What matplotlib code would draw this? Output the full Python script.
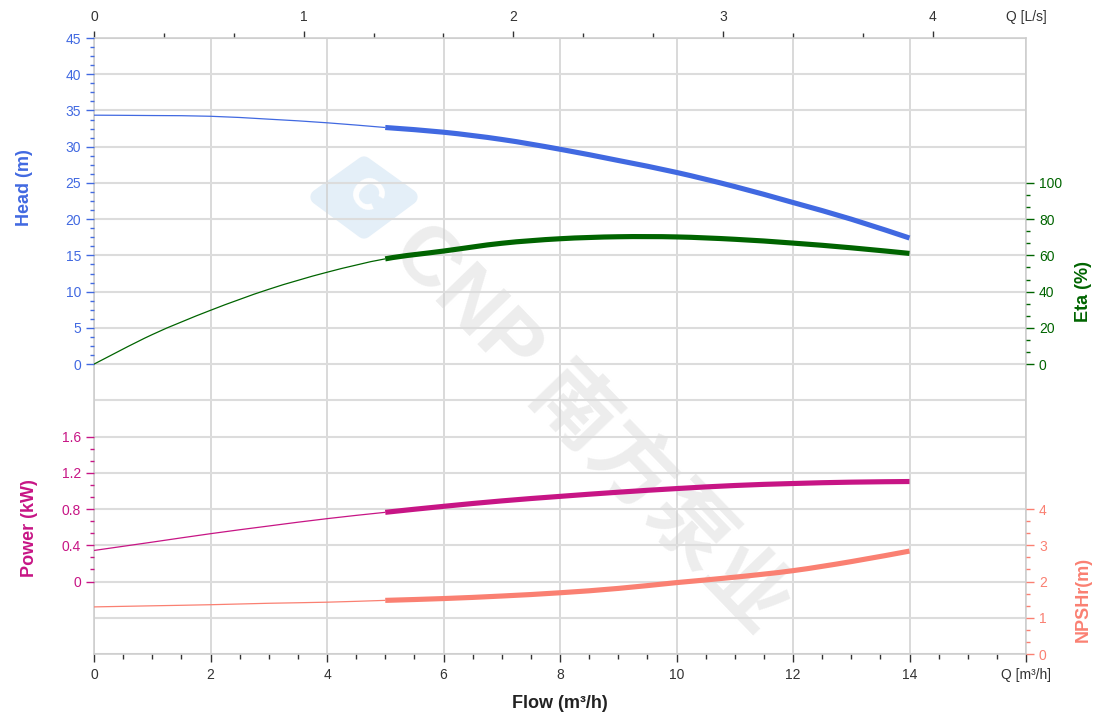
import numpy as np
import matplotlib
matplotlib.use('Agg')
import matplotlib.pyplot as plt
from matplotlib.ticker import FixedLocator
from matplotlib import patches
from matplotlib.path import Path

# ---------------- data ----------------
flow = [0, 1, 2, 3, 4, 5, 6, 7, 8, 9, 10, 11, 12, 13, 14]                 # m3/h
head = [34.35, 34.3, 34.2, 33.8, 33.3, 32.65, 32.0, 31.0, 29.65, 28.1,
        26.45, 24.5, 22.3, 20.0, 17.4]                                      # m
eta = [0.0, 16.3, 29.7, 41.3, 50.7, 58.1, 62.4, 66.7, 69.2, 70.3,
       70.2, 68.9, 66.8, 64.2, 61.1]                                        # %
power = [0.343, 0.435, 0.528, 0.613, 0.694, 0.764, 0.83, 0.89, 0.94, 0.986,
         1.026, 1.06, 1.082, 1.097, 1.104]                                  # kW
npsh = [1.30, 1.33, 1.36, 1.40, 1.43, 1.48, 1.53, 1.60, 1.69, 1.81,
        1.97, 2.12, 2.30, 2.55, 2.84]                                       # m

x_ticks = [0, 2, 4, 6, 8, 10, 12, 14, 16]
x_tick_labels = ['0', '2', '4', '6', '8', '10', '12', '14', 'Q [m³/h]']
ls_ticks = [0, 1, 2, 3, 4]
head_ticks = [0, 5, 10, 15, 20, 25, 30, 35, 40, 45]
eta_ticks = [0, 20, 40, 60, 80, 100]
power_ticks = [0, 0.4, 0.8, 1.2, 1.6]
power_tick_labels = ['0', '0.4', '0.8', '1.2', '1.6']
npsh_ticks = [0, 1, 2, 3, 4]
watermark = 'CNP 南方泵业'

# ---------------- style ----------------
C_HEAD = '#4169E1'
C_ETA = '#006400'
C_POW = '#C71585'
C_NPSH = '#FA8072'
C_TXT = '#333333'
THIN, THICK = 0.9, 3.7
PREF_START = 5.0   # start of the thick (preferred) part of the curves

plt.rcParams['font.family'] = ['Liberation Sans', 'DejaVu Sans']

W, H = 1120, 718
L, R, T, B = 94, 1026, 38, 654
pos = [L / W, 1 - B / H, (R - L) / W, (B - T) / H]

fig = plt.figure(figsize=(W / 100, H / 100), dpi=100)

# base axes: grid + flow axis
ax = fig.add_axes(pos)
ax.set_xlim(0, 16)
ax.set_ylim(0, 17)
ax.set_yticks(np.arange(0, 18))
ax.tick_params(axis='y', left=False, labelleft=False)
ax.grid(axis='y', color='#dcdcdc', lw=1.5)
ax.set_xticks(x_ticks)
ax.set_xticklabels(x_tick_labels)
ax.xaxis.set_minor_locator(FixedLocator([v for v in np.arange(0, 16.01, 0.5) if v % 2 != 0]))
ax.grid(axis='x', which='major', color='#d0d0d0', lw=1.1)
ax.tick_params(axis='x', which='major', length=5.8, width=1, color=C_TXT,
               labelcolor=C_TXT, labelsize=10, pad=4)
ax.tick_params(axis='x', which='minor', length=3.6, width=1, color=C_TXT)
for s in ax.spines.values():
    s.set_color('#cccccc')
    s.set_linewidth(1.1)

# top axis in L/s
sec = ax.secondary_xaxis('top', functions=(lambda q: q / 3.6, lambda l: l * 3.6))
sec.set_xticks(ls_ticks)
sec.xaxis.set_minor_locator(FixedLocator([i + f for i in range(4) for f in (1 / 3, 2 / 3)]))
sec.tick_params(axis='x', which='major', length=5.2, width=1, color=C_TXT,
                labelcolor=C_TXT, labelsize=10, pad=5)
sec.tick_params(axis='x', which='minor', length=3.4, width=1, color=C_TXT)
sec.spines['top'].set_visible(False)
ax.annotate('Q [L/s]', xy=(16, 1), xycoords=('data', 'axes fraction'),
            xytext=(0, 21), textcoords='offset pixels', ha='center', va='center',
            fontsize=10, color=C_TXT)

# watermark (behind grid)
ax.text(590 / W, 1 - 428 / H, watermark, transform=fig.transFigure, rotation=-46,
        rotation_mode='anchor', ha='center', va='center', fontsize=60,
        fontweight='bold', color='#ededed', zorder=0.5,
        family=['Liberation Sans', 'Noto Sans CJK SC'])
logo_pts = [(318, 197), (364, 164), (410, 197), (364, 231)]
logo = patches.Polygon([(x / W, 1 - y / H) for x, y in logo_pts], closed=True,
                       transform=fig.transFigure, facecolor='#e4eff8',
                       edgecolor='#e4eff8', lw=11, joinstyle='round', zorder=0.4)
ax.add_patch(logo)
ax.text(364 / W, 1 - 197 / H, 'C', transform=fig.transFigure, rotation=-46,
        ha='center', va='center', fontsize=32, fontweight='bold', color='white',
        zorder=0.45)


def overlay(ylim):
    a = fig.add_axes(pos, sharex=ax, frameon=False)
    a.set_ylim(*ylim)
    a.xaxis.set_visible(False)
    return a


def style_y(a, ticks, minors, color, side, labels=None):
    a.yaxis.set_major_locator(FixedLocator(ticks))
    a.yaxis.set_minor_locator(FixedLocator(minors))
    if labels is not None:
        a.set_yticklabels(labels)
    if side == 'right':
        a.yaxis.tick_right()
    else:
        a.yaxis.tick_left()
    a.tick_params(axis='y', which='major', length=5.8, width=1, colors=color,
                  labelsize=10, pad=3.5)
    a.tick_params(axis='y', which='minor', length=3.0, width=1, colors=color)


def smooth_path(x, y, i0, i1):
    """Cubic (Catmull-Rom) path through the read points i0..i1."""
    n = len(x)
    verts = [(x[i0], y[i0])]
    codes = [Path.MOVETO]
    for i in range(i0, i1):
        p0 = (x[max(i - 1, 0)], y[max(i - 1, 0)])
        p1 = (x[i], y[i])
        p2 = (x[i + 1], y[i + 1])
        p3 = (x[min(i + 2, n - 1)], y[min(i + 2, n - 1)])
        c1 = (p1[0] + (p2[0] - p0[0]) / 6, p1[1] + (p2[1] - p0[1]) / 6)
        c2 = (p2[0] - (p3[0] - p1[0]) / 6, p2[1] - (p3[1] - p1[1]) / 6)
        verts += [c1, c2, p2]
        codes += [Path.CURVE4] * 3
    return Path(verts, codes)


def split_plot(a, x, y, color):
    x = list(map(float, x))
    y = list(map(float, y))
    k = x.index(PREF_START)
    a.add_patch(patches.PathPatch(smooth_path(x, y, 0, k), fill=False,
                                  edgecolor=color, lw=THIN))
    a.add_patch(patches.PathPatch(smooth_path(x, y, k, len(x) - 1), fill=False,
                                  edgecolor=color, lw=THICK, capstyle='butt'))


# head
axh = overlay((-40, 45))
style_y(axh, head_ticks, [m for m in np.arange(0, 45.01, 1.25) if m % 5 != 0], C_HEAD, 'left')
split_plot(axh, flow, head, C_HEAD)

# efficiency
axe = overlay((-160, 180))
style_y(axe, eta_ticks, [m for m in np.arange(0, 100.01, 20 / 3) if abs(m / 20 - round(m / 20)) > 1e-6],
        C_ETA, 'right')
split_plot(axe, flow, eta, C_ETA)

# power
axp = overlay((-0.8, 6.0))
style_y(axp, power_ticks, [m for m in np.arange(0, 1.6001, 0.4 / 3) if abs(m / 0.4 - round(m / 0.4)) > 1e-6],
        C_POW, 'left', power_tick_labels)
split_plot(axp, flow, power, C_POW)

# NPSHr
axn = overlay((0, 17))
style_y(axn, npsh_ticks, [m for m in np.arange(0, 4.001, 1 / 3) if abs(m - round(m)) > 1e-6],
        C_NPSH, 'right')
split_plot(axn, flow, npsh, C_NPSH)

for a in (axh, axe, axp, axn):
    a.set_xlim(0, 16)

# axis titles
fig.text(24.5 / W, 1 - 188 / H, 'Head (m)', rotation=90, ha='center', va='center',
         fontsize=13, fontweight='bold', color=C_HEAD)
fig.text(30 / W, 1 - 528 / H, 'Power (kW)', rotation=90, ha='center', va='center',
         fontsize=13, fontweight='bold', color=C_POW)
fig.text(1083 / W, 1 - 291 / H, 'Eta (%)', rotation=90, ha='center', va='center',
         fontsize=13, fontweight='bold', color=C_ETA)
fig.text(1083 / W, 1 - 599 / H, 'NPSHr(m)', rotation=90, ha='center', va='center',
         fontsize=13, fontweight='bold', color=C_NPSH)
fig.text(560 / W, 1 - 703 / H, 'Flow (m³/h)', ha='center', va='center',
         fontsize=13, fontweight='bold', color='#222222')

fig.savefig('out.png', dpi=100)
